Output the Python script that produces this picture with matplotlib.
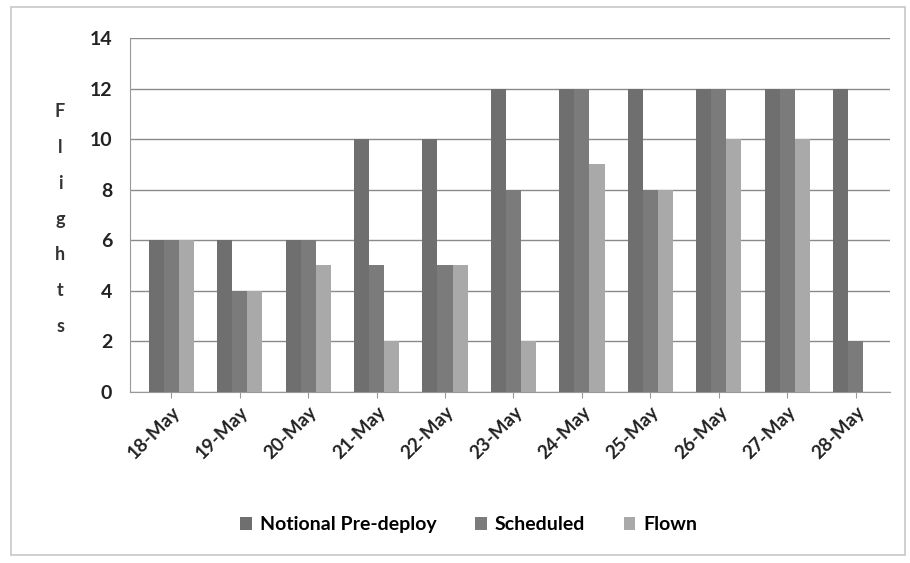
import matplotlib.pyplot as plt
import numpy as np
from matplotlib.patches import Rectangle

days = ["18-May", "19-May", "20-May", "21-May", "22-May", "23-May",
        "24-May", "25-May", "26-May", "27-May", "28-May"]
notional = [6, 6, 6, 10, 10, 12, 12, 12, 12, 12, 12]
scheduled = [6, 4, 6, 5, 5, 8, 12, 8, 12, 12, 2]
flown = [6, 4, 5, 2, 5, 2, 9, 8, 10, 10, 0]

plt.rcParams['font.family'] = ['Lato', 'DejaVu Sans']

fig = plt.figure(figsize=(9.1, 5.63), dpi=100)
ax = fig.add_axes([0.143, 0.304, 0.835, 0.6285])

# рамка навколо всього графіка
fig.patches.append(Rectangle((0.012, 0.015), 0.982, 0.972, transform=fig.transFigure,
                             fill=False, edgecolor='#c8c8c8', linewidth=1.2))

x = np.arange(len(days))
w = 0.22
ax.bar(x - w, notional, w, color='#6f6f6f', label='Notional Pre-deploy', zorder=3)
ax.bar(x, scheduled, w, color='#7b7b7b', label='Scheduled', zorder=3)
ax.bar(x + w, flown, w, color='#a9a9a9', label='Flown', zorder=3)

ax.set_ylim(0, 14)
ax.set_xlim(-0.6, 10.5)
ax.set_yticks(range(0, 15, 2))
ax.yaxis.grid(True, color='#8a8a8a', linewidth=1.0, zorder=0)
ax.set_xticks(x)
ax.set_xticklabels(days, rotation=45, ha='right', rotation_mode='anchor',
                   fontsize=13.5, fontweight='bold', color='#222222')
for lab in ax.get_yticklabels():
    lab.set_fontsize(14)
    lab.set_fontweight('bold')
    lab.set_color('#222222')
ax.tick_params(axis='y', length=0, pad=13)
ax.tick_params(axis='x', length=4, color='#999999', pad=4)

for s in ['top', 'right']:
    ax.spines[s].set_visible(False)
ax.spines['left'].set_color('#999999')
ax.spines['bottom'].set_color('#999999')

fig.text(0.066, 0.611, "F\nl\ni\ng\nh\nt\ns", ha='center', va='center',
         fontsize=13, fontweight='bold', color='#333333', linespacing=2.35)

fig.legend(loc='center', bbox_to_anchor=(0.515, 0.068), ncol=3, frameon=False,
           prop={'size': 14, 'weight': 'bold'}, handlelength=0.6, handleheight=0.6,
           columnspacing=2.0, handletextpad=0.4)

plt.savefig('out.png', dpi=100)
